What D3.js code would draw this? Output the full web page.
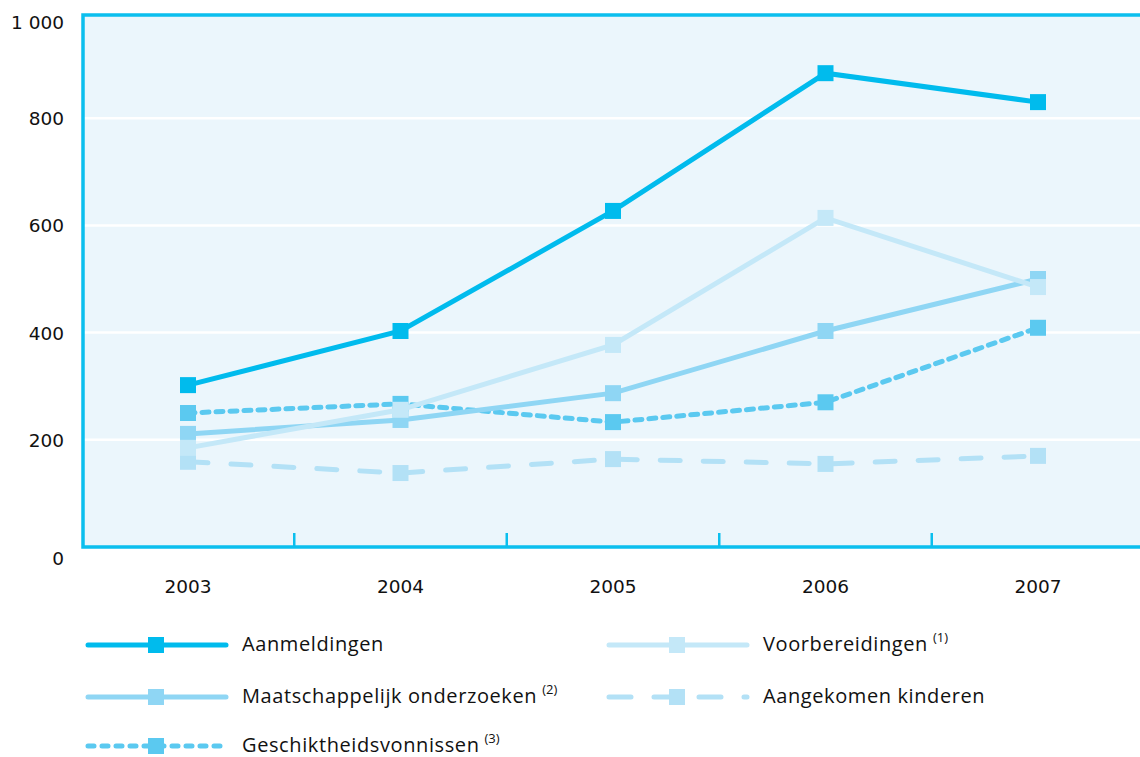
<!DOCTYPE html>
<html>
<head>
<meta charset="utf-8">
<script src="https://cdn.jsdelivr.net/npm/d3@7"></script>
<style>
  body { margin: 0; background: #fff; }
  svg { display: block; }
</style>
</head>
<body>
<svg id="chart" width="1140" height="757"></svg>
<script>
// chart data
var years = ["2003", "2004", "2005", "2006", "2007"];
var yTicks = [0, 200, 400, 600, 800, 1000];
var aanmeldingen = [302, 403, 627, 884, 830];
var voorbereidingen = [185, 256, 377, 614, 485];
var maatschappelijk = [211, 237, 287, 403, 500];
var geschiktheid = [250, 267, 233, 270, 409];
var aangekomen = [159, 138, 164, 155, 170];

var series = [
    {name: "Aangekomen kinderen", sup: "", values: aangekomen, color: "#b3e1f6", dash: "20,23", col: 1, row: 1},
    {name: "Geschiktheidsvonnissen", sup: "(3)", values: geschiktheid, color: "#5bc9f0", dash: "7,7", col: 0, row: 2},
    {name: "Maatschappelijk onderzoeken", sup: "(2)", values: maatschappelijk, color: "#8fd6f4", dash: null, col: 0, row: 1},
    {name: "Voorbereidingen", sup: "(1)", values: voorbereidingen, color: "#c4e8f8", dash: null, col: 1, row: 0},
    {name: "Aanmeldingen", sup: "", values: aanmeldingen, color: "#00bbed", dash: null, col: 0, row: 0}
];

var svg = d3.select("#chart");
var plotLeft = 83, plotRight = 1140, plotTop = 15, plotBottom = 547;

var x = d3.scalePoint().domain(years).range([188, 1038]);
var y = d3.scaleLinear().domain([0, 1000]).range([plotBottom, 11]);

// plot background
svg.append("rect")
    .attr("x", plotLeft).attr("y", plotTop)
    .attr("width", plotRight - plotLeft + 5).attr("height", plotBottom - plotTop)
    .attr("fill", "#ebf6fc");

// gridlines
svg.selectAll(".grid")
    .data(yTicks.filter(function(d) { return d > 0 && d < 1000; }))
    .enter().append("line")
    .attr("x1", plotLeft).attr("x2", plotRight)
    .attr("y1", function(d) { return y(d); })
    .attr("y2", function(d) { return y(d); })
    .attr("stroke", "#fff").attr("stroke-width", 2.5);

// frame
svg.append("path")
    .attr("d", "M" + (plotRight + 5) + "," + plotTop + "H" + plotLeft + "V" + plotBottom + "H" + (plotRight + 5))
    .attr("fill", "none").attr("stroke", "#0bbfee").attr("stroke-width", 3.5);

// x ticks between the years
var step = x.step();
svg.selectAll(".xtick")
    .data(years.slice(0, -1))
    .enter().append("line")
    .attr("x1", function(d) { return x(d) + step / 2; })
    .attr("x2", function(d) { return x(d) + step / 2; })
    .attr("y1", plotBottom - 14).attr("y2", plotBottom)
    .attr("stroke", "#0bbfee").attr("stroke-width", 2.5);

// axis labels
svg.selectAll(".ylab")
    .data(yTicks)
    .enter().append("text")
    .attr("x", 64)
    .attr("y", function(d) {
        if (d == 0) return plotBottom + 18;
        if (d == 1000) return 29;
        return y(d) + 7;
    })
    .attr("text-anchor", "end")
    .attr("font-family", "DejaVu Sans, Verdana, sans-serif")
    .attr("font-size", 18.5)
    .attr("fill", "#111")
    .text(function(d) { return d == 1000 ? "1 000" : d; });

svg.selectAll(".xlab")
    .data(years)
    .enter().append("text")
    .attr("x", function(d) { return x(d); })
    .attr("y", 593)
    .attr("text-anchor", "middle")
    .attr("font-family", "DejaVu Sans, Verdana, sans-serif")
    .attr("font-size", 18.5)
    .attr("fill", "#111")
    .text(function(d) { return d; });

// lines + markers
var line = d3.line()
    .x(function(d, i) { return x(years[i]); })
    .y(function(d) { return y(d); });

series.forEach(function(s) {
    var g = svg.append("g");
    g.append("path")
        .attr("d", line(s.values))
        .attr("fill", "none")
        .attr("stroke", s.color)
        .attr("stroke-width", 5)
        .attr("stroke-linecap", s.dash ? "round" : "butt")
        .attr("stroke-dasharray", s.dash);
    g.selectAll("rect")
        .data(s.values)
        .enter().append("rect")
        .attr("x", function(d, i) { return x(years[i]) - 8; })
        .attr("y", function(d) { return y(d) - 8; })
        .attr("width", 16).attr("height", 16)
        .attr("fill", s.color);
});

// legend
var legendCols = [86, 607];
var legendRows = [645, 697, 746];
var legendOrder = ["Aanmeldingen", "Voorbereidingen", "Maatschappelijk onderzoeken", "Aangekomen kinderen", "Geschiktheidsvonnissen"];
legendOrder.forEach(function(name) {
    var s = series.filter(function(d) { return d.name == name; })[0];
    var lx = legendCols[s.col], ly = legendRows[s.row];
    var g = svg.append("g");
    g.append("line")
        .attr("x1", lx + 2).attr("x2", lx + 140)
        .attr("y1", ly).attr("y2", ly)
        .attr("stroke", s.color).attr("stroke-width", 5)
        .attr("stroke-linecap", "round")
        .attr("stroke-dasharray", s.dash ? (s.name == "Aangekomen kinderen" ? "22,23" : "6,8") : null);
    g.append("rect")
        .attr("x", lx + 62).attr("y", ly - 8)
        .attr("width", 16).attr("height", 16)
        .attr("fill", s.color);
    var t = g.append("text")
        .attr("x", lx + 156).attr("y", ly + 6)
        .attr("font-family", "Open Sans, sans-serif")
        .attr("font-size", 20)
        .attr("letter-spacing", 0.6)
        .attr("fill", "#111")
        .text(s.name);
    if (s.sup) {
        t.append("tspan")
            .attr("dx", 5).attr("dy", -9)
            .attr("font-size", 13)
            .attr("letter-spacing", 0)
            .text(s.sup);
    }
});
</script>
</body>
</html>
